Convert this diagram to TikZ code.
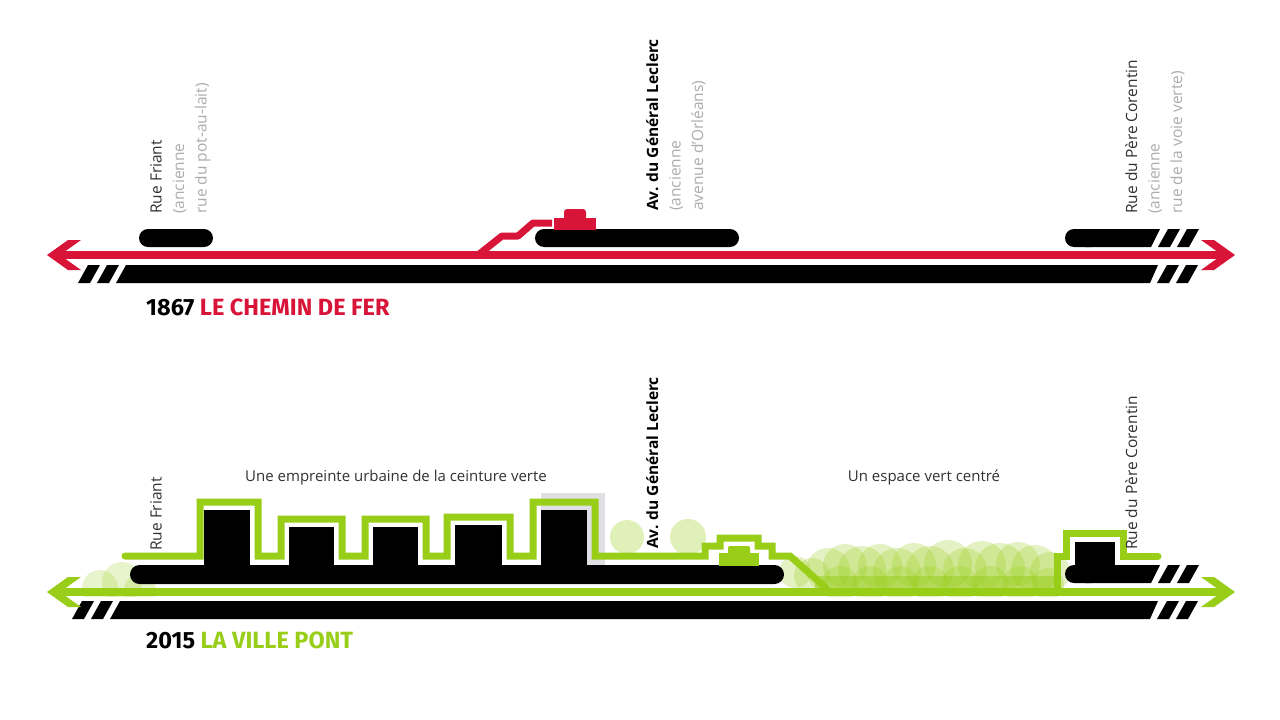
\documentclass[tikz,border=0pt]{standalone}
\usepackage{fontspec}
\setmainfont{Open Sans}
\newfontfamily\titlefont{Fira Sans}
\usepackage{xcolor}
\definecolor{railred}{RGB}{216,20,56}
\definecolor{villegreen}{RGB}{152,206,24}
\definecolor{oldgray}{RGB}{172,172,172}
\definecolor{textgray}{RGB}{50,50,50}
\definecolor{shadegray}{RGB}{224,224,228}
\usetikzlibrary{positioning}
\tikzset{
  streetlabel/.style={
    rotate=90, anchor=north west, align=left, inner sep=0pt,
    font=\fontsize{15.5}{22.5}\selectfont, text=textgray
  },
  caption/.style={font=\fontsize{15}{18}\selectfont, text=textgray, inner sep=0pt},
  yeartitle/.style={anchor=base west, inner sep=0pt,
    font=\titlefont\bfseries\fontsize{23.5}{28}\selectfont},
  track/.style={fill=black},
  rail/.style={draw=#1, line width=8.5pt},
  outline/.style={draw=villegreen, line width=7pt, line cap=round, line join=miter},
  tree/.style={fill=villegreen, fill opacity=#1},
  tree/.default=0.3,
}

\begin{document}
\begin{tikzpicture}[x=1pt, y=-1pt]

  \useasboundingbox (0,0) rectangle (1280,720);
  \fill[white] (0,0) rectangle (1280,720);

  % --- 1867 : le chemin de fer ---
  % voie basse avec hachures
  \fill[track] (116,283) -- (126,265) -- (1158,265) -- (1150,283) -- cycle;
  \foreach \x in {78,97,1157,1176}
    \fill[track] (\x,283) -- ++(10,-18) -- ++(12,0) -- ++(-10,18) -- cycle;

  % quais
  \fill[track, rounded corners=9] (139,229) rectangle (213,247);
  \fill[track, rounded corners=9] (535,229) rectangle (739,247);
  \fill[track, rounded corners=9] (1065,229) rectangle (1100,247);
  \fill[track] (1085,229) -- (1160,229) -- (1151,247) -- (1085,247) -- cycle;
  \foreach \x in {1158,1177}
    \fill[track] (\x,247) -- ++(10,-18) -- ++(12,0) -- ++(-10,18) -- cycle;

  % rail rouge et fleches
  \draw[rail=railred] (58,255) -- (1224,255);
  \fill[railred] (47,255) -- (68,240) -- (81,240) -- (60,255) -- (81,270) -- (68,270) -- cycle;
  \fill[railred] (1235,255) -- (1214,240) -- (1201,240) -- (1222,255) -- (1201,270) -- (1214,270) -- cycle;

  % rampe et wagon
  \draw[railred, line width=7pt, line join=round] (478,255) -- (502,236) -- (518,236) -- (533,223) -- (552,223);
  \fill[railred] (554,218) rectangle (596,230);
  \fill[railred, rounded corners=3] (564,209) rectangle (586,220);

  % noms de rues
  \node[streetlabel] (friant67) at (150,214)
    {Rue Friant\\{\color{oldgray}(ancienne}\\{\color{oldgray}rue du pot-au-lait)}};
  \node[streetlabel] (leclerc67) at (646,211)
    {{\bfseries\color{black}Av. du Général Leclerc}\\{\color{oldgray}(ancienne}\\{\color{oldgray}avenue d'Orléans)}};
  \node[streetlabel] (corentin67) at (1125,214)
    {Rue du Père Corentin\\{\color{oldgray}(ancienne}\\{\color{oldgray}rue de la voie verte)}};

  \node[yeartitle] (titre67) at (146,315) {1867 \textcolor{railred}{LE CHEMIN DE FER}};

  % --- 2015 : la ville pont ---
  % arbres
  \begin{scope}
    \clip (60,480) rectangle (1070,596);
    \foreach \cx/\cy/\r in {100/588/18, 122/582/20, 140/590/16}
      \fill[tree=0.22] (\cx,\cy) circle[radius=\r];
    \foreach \cx/\cy/\r in {627/537/17, 688/537/18}
      \fill[tree=0.3] (\cx,\cy) circle[radius=\r];
    \fill[tree=0.5] (815,576) rectangle (1060,592);
    \foreach \cx/\cy/\r in {795/572/16, 812/576/18, 828/570/22, 845/566/22, 862/570/24,
        880/566/22, 897/572/24, 914/565/22, 930/570/24, 948/564/24, 965/570/22,
        982/565/24, 1000/568/25, 1018/564/22, 1035/569/24, 1050/572/20,
        840/584/18, 870/584/18, 900/584/18, 930/584/18, 960/584/18, 990/584/18,
        1020/584/18, 1048/584/16}
      \fill[tree=0.26] (\cx,\cy) circle[radius=\r];
  \end{scope}

  % ombre derriere le dernier immeuble
  \fill[shadegray] (541,493) rectangle (605,566);

  % voie basse avec hachures
  \fill[track] (110,619) -- (120,601) -- (1158,601) -- (1150,619) -- cycle;
  \foreach \x in {72,91,1157,1176}
    \fill[track] (\x,619) -- ++(10,-18) -- ++(12,0) -- ++(-10,18) -- cycle;

  % quai et immeubles
  \fill[track, rounded corners=9.5] (130,565) rectangle (784,584);
  \foreach \xa/\xb/\yt in {204/250/510, 289/334/527, 373/418/527, 455/502/525, 541/587/510}
    \fill[track] (\xa,\yt) rectangle (\xb,566);
  \fill[villegreen] (719,553) rectangle (759,566);
  \fill[villegreen, rounded corners=2] (728,546) rectangle (750,555);

  \fill[track, rounded corners=9] (1065,565) rectangle (1100,583);
  \fill[track] (1085,565) -- (1160,565) -- (1151,583) -- (1085,583) -- cycle;
  \fill[track] (1075,542) rectangle (1115,566);
  \foreach \x in {1158,1177}
    \fill[track] (\x,583) -- ++(10,-18) -- ++(12,0) -- ++(-10,18) -- cycle;

  % contour vert
  \draw[outline] (125,556) -- (200,556) -- (200,502) -- (258,502) -- (258,556)
    -- (281,556) -- (281,519) -- (342,519) -- (342,556) -- (365,556) -- (365,519)
    -- (426,519) -- (426,556) -- (447,556) -- (447,517) -- (510,517) -- (510,556)
    -- (533,556) -- (533,502) -- (595,502) -- (595,556) -- (705,556) -- (705,546)
    -- (720,546) -- (720,538) -- (758,538) -- (758,546) -- (772,546) -- (772,556)
    -- (790,556) -- (826,588);
  \draw[outline] (1057,588) -- (1057,556) -- (1066,556) -- (1066,533) -- (1123,533)
    -- (1123,556) -- (1158,556);

  % rail vert et fleches
  \draw[rail=villegreen] (58,592) -- (1224,592);
  \fill[villegreen] (47,592) -- (68,577) -- (81,577) -- (60,592) -- (81,607) -- (68,607) -- cycle;
  \fill[villegreen] (1235,592) -- (1214,577) -- (1201,577) -- (1222,592) -- (1201,607) -- (1214,607) -- cycle;

  % noms de rues et legendes
  \node[streetlabel] (friant15) at (150,551) {Rue Friant};
  \node[streetlabel, text=black, font=\fontsize{15.5}{22.5}\selectfont\bfseries] (leclerc15) at (646,549) {Av. du Général Leclerc};
  \node[streetlabel] (corentin15) at (1125,550) {Rue du Père Corentin};
  \node[caption] (empreinte) at (396,478) {Une empreinte urbaine de la ceinture verte};
  \node[caption] (espace) at (924,478) {Un espace vert centré};

  \node[yeartitle] (titre15) at (146,648) {2015 \textcolor{villegreen}{LA VILLE PONT}};

\end{tikzpicture}
\end{document}
